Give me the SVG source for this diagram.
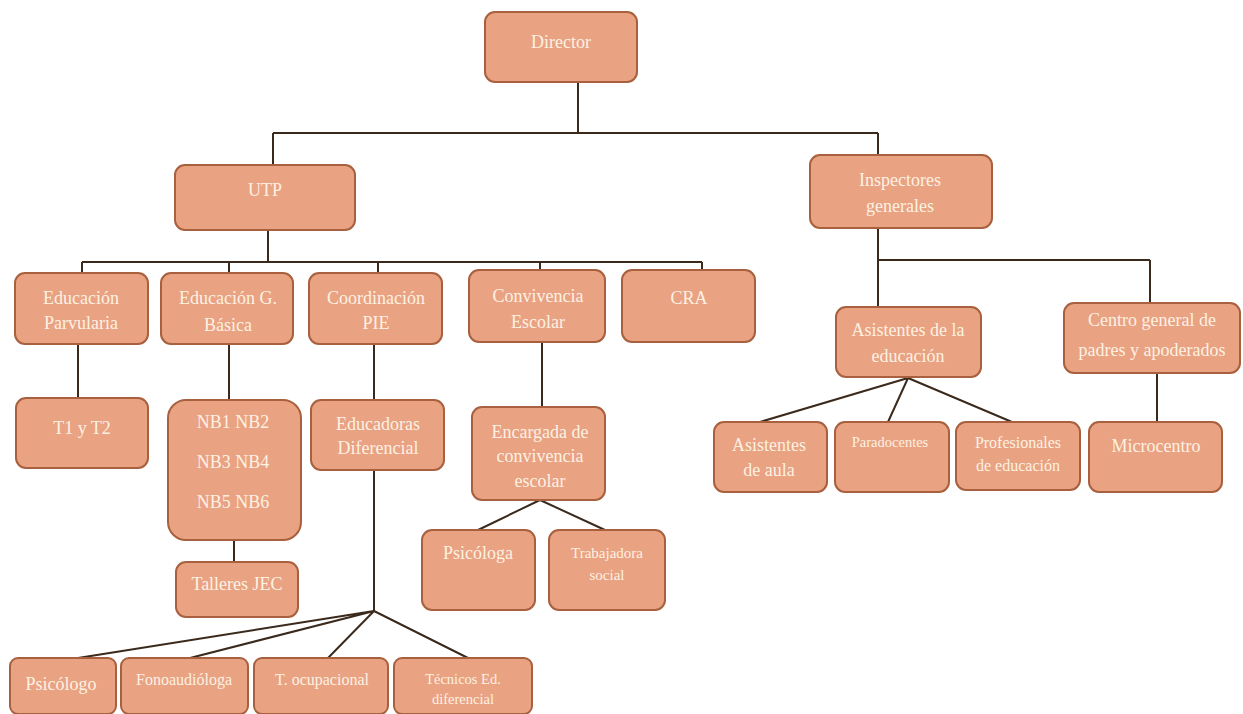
<svg xmlns="http://www.w3.org/2000/svg" width="1243" height="714" viewBox="0 0 1243 714">
<style>
.b{fill:#E9A282;stroke:#A8603F;stroke-width:2}
.t{font-family:"Liberation Serif","Times New Roman",serif;font-size:18px;fill:#FDF1E2;text-anchor:middle}
.m{font-size:16px}
.s{font-size:15px}
.x{font-size:14.5px}
.c{stroke:#3B2A1C;stroke-width:2;fill:none}
</style>
<rect width="1243" height="714" fill="#FFFFFF"/>
<g id="connectors" class="c">
<path d="M578 82V133M273 133H878M273 133V165"/>
<path d="M878 133V155"/>
<path d="M268 230V262M82 262H702M82 262V273M229 262V273M378 262V273M540 262V270M702 262V270"/>
<path d="M878 228V260H1150M878 260V307M1150 260V303"/>
<path d="M78 344V398M229 344V400M234 540V562M374 344V400M374 470V611M542 342V407"/>
<path d="M540 500L478 530M540 500L605 530"/>
<path d="M374 611L78 658M374 611L190 658M374 611L328 658M374 611L468 658"/>
<path d="M908 378L760 422M908 378L888 422M908 378L1012 422M1157 373V422"/>
</g>
<g id="director"><rect class="b" x="485" y="12" width="152" height="70" rx="10"/><text class="t" x="561" y="48">Director</text></g>
<g id="utp"><rect class="b" x="175" y="165" width="180" height="65" rx="10"/><text class="t" x="265" y="196">UTP</text></g>
<g id="inspectores"><rect class="b" x="810" y="155" width="182" height="73" rx="10"/><text class="t" x="900" y="186">Inspectores</text><text class="t" x="900" y="212">generales</text></g>
<g id="parvularia"><rect class="b" x="15" y="273" width="133" height="71" rx="10"/><text class="t" x="81" y="304">Educación</text><text class="t" x="81" y="329">Parvularia</text></g>
<g id="basica"><rect class="b" x="161" y="273" width="132" height="71" rx="10"/><text class="t" x="228" y="304">Educación G.</text><text class="t" x="228" y="331">Básica</text></g>
<g id="pie"><rect class="b" x="309" y="273" width="133" height="71" rx="10"/><text class="t" x="376" y="304">Coordinación</text><text class="t" x="376" y="329">PIE</text></g>
<g id="convivencia"><rect class="b" x="469" y="270" width="136" height="72" rx="10"/><text class="t" x="538" y="302">Convivencia</text><text class="t" x="538" y="328">Escolar</text></g>
<g id="cra"><rect class="b" x="622" y="270" width="133" height="72" rx="10"/><text class="t" x="689" y="304">CRA</text></g>
<g id="asistentes-educacion"><rect class="b" x="836" y="307" width="145" height="70" rx="10"/><text class="t" x="908" y="336">Asistentes de la</text><text class="t" x="908" y="362">educación</text></g>
<g id="centro"><rect class="b" x="1064" y="303" width="176" height="70" rx="10"/><text class="t" x="1152" y="326">Centro general de</text><text class="t" x="1152" y="356">padres y apoderados</text></g>
<g id="t1t2"><rect class="b" x="16" y="398" width="132" height="70" rx="10"/><text class="t" x="82" y="434">T1 y T2</text></g>
<g id="nb"><rect class="b" x="168" y="400" width="133" height="140" rx="18"/><text class="t" x="233" y="428">NB1 NB2</text><text class="t" x="233" y="468">NB3 NB4</text><text class="t" x="233" y="508">NB5 NB6</text></g>
<g id="talleres"><rect class="b" x="176" y="562" width="122" height="55" rx="10"/><text class="t" x="237" y="590">Talleres JEC</text></g>
<g id="educadoras"><rect class="b" x="311" y="400" width="133" height="70" rx="10"/><text class="t" x="378" y="430">Educadoras</text><text class="t" x="378" y="454">Diferencial</text></g>
<g id="encargada"><rect class="b" x="472" y="407" width="133" height="93" rx="10"/><text class="t" x="540" y="438">Encargada de</text><text class="t" x="540" y="462">convivencia</text><text class="t" x="540" y="487">escolar</text></g>
<g id="psicologa"><rect class="b" x="422" y="530" width="113" height="80" rx="10"/><text class="t" x="478" y="559">Psicóloga</text></g>
<g id="trabajadora"><rect class="b" x="549" y="530" width="116" height="80" rx="10"/><text class="t s" x="607" y="558">Trabajadora</text><text class="t s" x="607" y="580">social</text></g>
<g id="psicologo"><rect class="b" x="10" y="658" width="106" height="56" rx="8"/><text class="t" x="61" y="690">Psicólogo</text></g>
<g id="fonoaudiologa"><rect class="b" x="121" y="658" width="127" height="56" rx="8"/><text class="t m" x="184" y="685">Fonoaudióloga</text></g>
<g id="ocupacional"><rect class="b" x="254" y="658" width="134" height="56" rx="8"/><text class="t m" x="322" y="685">T. ocupacional</text></g>
<g id="tecnicos"><rect class="b" x="394" y="658" width="138" height="56" rx="8"/><text class="t x" x="463" y="684">Técnicos Ed.</text><text class="t x" x="463" y="704">diferencial</text></g>
<g id="asistentes-aula"><rect class="b" x="714" y="422" width="113" height="70" rx="10"/><text class="t" x="769" y="451">Asistentes</text><text class="t" x="769" y="476">de aula</text></g>
<g id="paradocentes"><rect class="b" x="835" y="422" width="114" height="70" rx="10"/><text class="t x" x="890" y="447">Paradocentes</text></g>
<g id="profesionales"><rect class="b" x="956" y="422" width="124" height="68" rx="10"/><text class="t m" x="1018" y="448">Profesionales</text><text class="t m" x="1018" y="471">de educación</text></g>
<g id="microcentro"><rect class="b" x="1089" y="422" width="133" height="70" rx="10"/><text class="t" x="1156" y="452">Microcentro</text></g>
</svg>
